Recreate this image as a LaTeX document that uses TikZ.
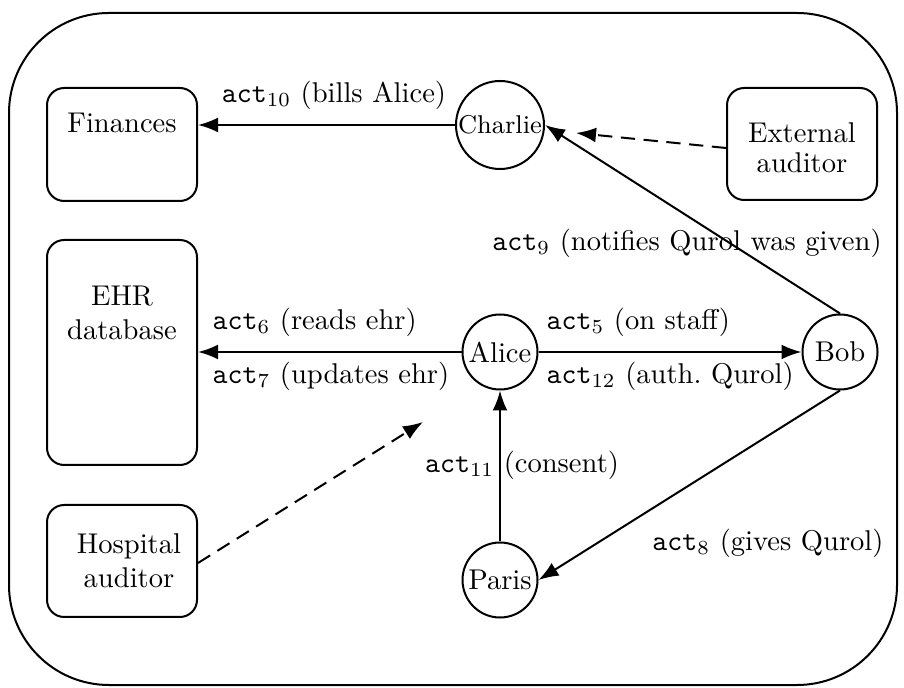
\documentclass[tikz,border=0pt]{standalone}
\usetikzlibrary{arrows.meta,calc}
\begin{document}
\begin{tikzpicture}[x=0.35pt,y=-0.35pt,
  box/.style={draw, line width=0.7pt, rounded corners=6pt, minimum width=52.5pt, inner sep=0pt},
  actor/.style={draw, circle, line width=0.7pt, inner sep=0pt, minimum size=26.25pt},
  arr/.style={line width=0.7pt, -{Latex[length=7pt,width=5.2pt]}},
  darr/.style={arr, dash pattern=on 5pt off 3pt},
  lbl/.style={inner sep=0pt}]
\useasboundingbox (0,0) rectangle (904,688);
\draw[line width=0.7pt, rounded corners=35pt] (9,13) rectangle (897,685);

% boxes
\node[box, minimum height=39.55pt] (fin) at (122,144.5) {};
\node (fintxt) at (122,123) {Finances};
\node[box, minimum height=78.75pt] (ehr) at (122,352.5) {};
\node[align=center] (ehrtxt) at (122,313) {EHR\\database};
\node[box, minimum height=39.2pt] (hosp) at (122,561) {};
\node[align=center] (hosptxt) at (129,561) {Hospital\\auditor};
\node[box, minimum height=39.2pt] (ext) at (802,144) {};
\node[align=center] (exttxt) at (802,148) {External\\[-1.5pt]auditor};

% actors
\node[actor, minimum size=30.8pt, font=\small] (charlie) at (500,125) {Charlie};
\node[actor] (alice) at (500,352) {Alice};
\node[actor] (bob) at (840,352) {Bob};
\node[actor] (paris) at (500,580) {Paris};

% connectors
\draw[arr] (charlie.west) -- (charlie.west -| fin.east);
\draw[arr] (alice.west) -- (alice.west -| ehr.east);
\draw[arr] (alice) -- (bob);
\draw[arr] (paris) -- (alice);
\draw[arr] (bob.south) -- (paris.east);
\draw[arr] (bob.north) -- (charlie.east);
\coordinate (exttip) at (576,133);
\draw[darr] ($(ext.west)+(0,4)$) -- (exttip);
\coordinate (hosptip) at (423,422);
\draw[darr] ($(hosp.east)+(0,2)$) -- (hosptip);

% labels
\node[lbl] (l10) at (334,95) {\texttt{act}$_{10}$ (bills Alice)};
\node[lbl, anchor=west] (l6) at (212,322) {\texttt{act}$_6$ (reads ehr)};
\node[lbl, anchor=west] (l7) at (212,376) {\texttt{act}$_7$ (updates ehr)};
\node[lbl, anchor=west] (l5) at (546,322) {\texttt{act}$_5$ (on staff)};
\node[lbl, anchor=west] (l12) at (546,376) {\texttt{act}$_{12}$ (auth.\ Qurol)};
\node[lbl] (l11) at (522,465) {\texttt{act}$_{11}$ (consent)};
\node[lbl] (l8) at (768,543) {\texttt{act}$_8$ (gives Qurol)};
\node[lbl] (l9) at (687,243) {\texttt{act}$_9$ (notifies Qurol was given)};
\end{tikzpicture}
\end{document}
